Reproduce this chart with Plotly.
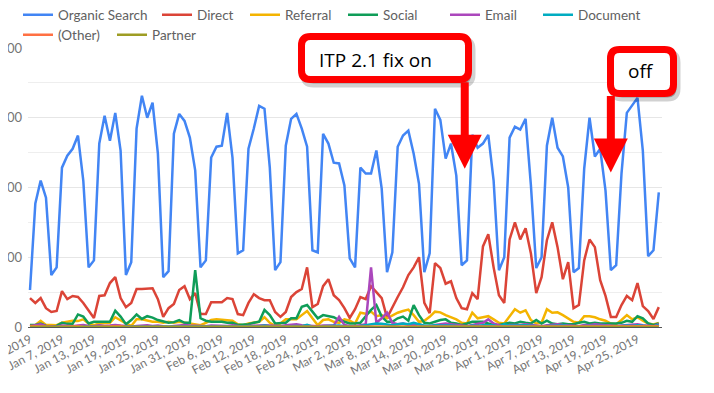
import plotly.graph_objects as go
import pandas as pd

# ---------------- data (daily, Jan 1 2019 - Apr 29 2019) ----------------
start_date = "2019-01-01"
end_date = "2019-04-29"

organic_search = [
    106, 354, 420, 371, 149, 171, 457,
    491, 511, 549, 420, 171, 191, 526,
    606, 534, 614, 506, 149, 186, 569,
    663, 600, 643, 497, 143, 160, 554,
    611, 591, 543, 449, 171, 191, 486,
    517, 520, 614, 486, 211, 220, 511,
    569, 634, 626, 457, 163, 186, 520,
    597, 611, 569, 517, 220, 214, 554,
    526, 471, 469, 406, 197, 171, 457,
    440, 440, 506, 397, 157, 214, 517,
    549, 563, 497, 411, 157, 211, 626,
    594, 483, 526, 434, 177, 191, 551,
    514, 526, 551, 420, 163, 200, 543,
    574, 566, 597, 406, 169, 200, 520,
    600, 514, 489, 400, 157, 169, 454,
    600, 489, 511, 391, 163, 177, 440,
    614, 634, 657, 506, 203, 220, 386,
]
direct = [
    83, 69, 83, 54, 43, 46, 103,
    80, 89, 86, 69, 49, 26, 89,
    91, 126, 143, 83, 57, 69, 109,
    109, 109, 111, 80, 29, 54, 66,
    106, 117, 80, 97, 37, 37, 71,
    71, 71, 83, 80, 37, 34, 69,
    94, 83, 77, 77, 43, 29, 43,
    86, 100, 109, 171, 57, 66, 117,
    137, 91, 77, 54, 26, 51, 86,
    80, 117, 100, 83, 26, 57, 86,
    114, 149, 171, 200, 69, 40, 183,
    169, 124, 131, 83, 54, 51, 97,
    80, 231, 266, 171, 91, 69, 251,
    300, 251, 283, 211, 97, 143, 249,
    300, 229, 137, 186, 54, 63, 191,
    251, 229, 134, 89, 29, 29, 63,
    89, 77, 126, 60, 46, 23, 57,
]
referral = [
    3, 6, 18, 6, 6, 5, 12,
    15, 18, 17, 22, 10, 5, 10,
    12, 12, 28, 18, 10, 3, 22,
    22, 18, 15, 15, 12, 15, 12,
    15, 13, 10, 8, 5, 12, 20,
    22, 20, 18, 18, 8, 5, 10,
    12, 15, 28, 12, 3, 10, 22,
    22, 22, 34, 46, 25, 5, 20,
    22, 15, 12, 22, 18, 10, 41,
    38, 44, 31, 34, 25, 34, 41,
    46, 50, 34, 15, 18, 29, 44,
    42, 34, 29, 22, 12, 10, 41,
    25, 28, 31, 22, 12, 10, 29,
    51, 41, 48, 20, 10, 12, 51,
    41, 42, 34, 25, 15, 12, 31,
    31, 28, 22, 18, 10, 8, 20,
    34, 22, 28, 18, 10, 7, 12,
]
social = [
    6, 6, 10, 3, 1, 3, 12,
    9, 9, 36, 30, 10, 15, 15,
    14, 15, 47, 30, 8, 20, 36,
    23, 31, 27, 20, 15, 12, 14,
    20, 12, 12, 163, 25, 18, 15,
    15, 15, 12, 12, 6, 6, 8,
    12, 15, 49, 34, 10, 10, 12,
    25, 25, 58, 63, 44, 25, 34,
    31, 28, 20, 15, 10, 10, 12,
    31, 49, 63, 30, 15, 15, 25,
    30, 18, 63, 34, 12, 10, 15,
    20, 22, 12, 10, 6, 10, 15,
    15, 15, 10, 6, 6, 8, 12,
    10, 15, 12, 10, 20, 10, 18,
    10, 8, 10, 8, 8, 12, 15,
    10, 12, 10, 10, 8, 10, 12,
    18, 15, 31, 25, 10, 6, 10,
]
email = [
    2, 5, 8, 3, 2, 1, 4,
    3, 2, 4, 6, 3, 2, 5,
    3, 4, 6, 4, 2, 1, 3,
    4, 5, 3, 4, 2, 1, 3,
    5, 6, 4, 3, 2, 2, 4,
    3, 4, 3, 5, 2, 1, 3,
    4, 3, 5, 4, 2, 2, 5,
    6, 8, 5, 4, 3, 2, 4,
    5, 4, 29, 6, 3, 2, 5,
    8, 171, 12, 25, 41, 12, 8,
    10, 6, 5, 8, 3, 2, 6,
    8, 10, 8, 6, 3, 2, 6,
    8, 12, 22, 10, 5, 3, 6,
    5, 6, 8, 6, 3, 2, 5,
    6, 8, 6, 5, 3, 2, 6,
    5, 8, 6, 5, 3, 2, 4,
    5, 6, 8, 5, 3, 2, 8,
]
document = [
    1, 2, 1, 0, 0, 0, 1,
    1, 2, 1, 1, 0, 0, 1,
    2, 1, 2, 1, 0, 0, 1,
    2, 1, 2, 1, 0, 0, 2,
    1, 2, 1, 2, 0, 0, 1,
    2, 1, 2, 1, 0, 0, 2,
    1, 2, 4, 2, 0, 1, 2,
    2, 3, 2, 6, 1, 0, 2,
    3, 2, 4, 2, 1, 0, 3,
    6, 8, 10, 9, 6, 5, 8,
    10, 8, 12, 8, 4, 3, 5,
    4, 5, 4, 3, 1, 1, 4,
    3, 5, 6, 5, 1, 8, 4,
    3, 4, 5, 4, 1, 1, 3,
    4, 3, 4, 3, 1, 1, 3,
    3, 4, 3, 3, 1, 1, 3,
    4, 3, 5, 3, 1, 1, 6,
]
other = [
    3, 2, 1, 2, 0, 0, 1,
    2, 1, 2, 1, 0, 0, 1,
    1, 2, 1, 3, 0, 0, 2,
    1, 2, 1, 1, 0, 0, 1,
    2, 1, 2, 1, 0, 0, 2,
    1, 2, 1, 2, 0, 0, 1,
    2, 1, 2, 1, 0, 0, 1,
    1, 2, 1, 2, 0, 0, 2,
    2, 1, 2, 1, 0, 0, 1,
    1, 2, 1, 2, 0, 0, 1,
    2, 1, 2, 1, 0, 0, 2,
    1, 2, 1, 1, 0, 0, 1,
    2, 1, 2, 1, 0, 0, 1,
    1, 2, 1, 2, 0, 0, 2,
    2, 1, 2, 1, 0, 0, 1,
    1, 2, 1, 2, 0, 0, 1,
    2, 1, 2, 1, 0, 0, 2,
]
partner = [
    0, 1, 0, 1, 0, 0, 0,
    1, 0, 1, 0, 0, 0, 1,
    0, 1, 0, 1, 0, 0, 0,
    1, 0, 1, 0, 0, 0, 1,
    0, 1, 0, 1, 0, 0, 0,
    1, 0, 1, 0, 0, 0, 1,
    0, 1, 0, 1, 0, 0, 0,
    1, 0, 1, 0, 0, 0, 1,
    0, 1, 0, 1, 0, 0, 0,
    1, 0, 1, 0, 0, 0, 1,
    0, 1, 0, 1, 0, 0, 0,
    1, 0, 1, 0, 0, 0, 1,
    0, 1, 0, 1, 0, 0, 0,
    1, 0, 1, 0, 0, 0, 1,
    0, 1, 0, 1, 0, 0, 0,
    1, 0, 1, 0, 0, 0, 1,
    0, 1, 0, 1, 0, 0, 0,
]

series_names = ["Organic Search", "Direct", "Referral", "Social", "Email",
                "Document", "(Other)", "Partner"]
series_values = [organic_search, direct, referral, social, email,
                 document, other, partner]
series_colors = ["#4285F4", "#DB4437", "#F4B400", "#0F9D58", "#AB47BC",
                 "#00ACC1", "#FF7043", "#9E9D24"]

y_tick_values = [0, 200, 400, 600, 800]

itp_on_date, itp_on_value = "2019-03-23 14:00", 454
itp_off_date, itp_off_value = "2019-04-20", 443

# ---------------- layout geometry (page pixels; page body has 8px margin) ----
OFF = 8
W, H = 714 - OFF, 393 - OFF
ML, MT = 28 - OFF, 48 - OFF
MR = W - (662 - OFF)
MB = H - (327 - OFF)
PW, PH = W - ML - MR, H - MT - MB

# legend entries: (text start x, row centre y) in page pixels
legend_pos = [(58, 15), (197, 15), (285, 15), (383, 15), (485, 15), (578, 15),
              (58, 35), (152, 35)]


def px(xp):
    return (xp - OFF - ML) / PW


def py(yp):
    return (H - MB - (yp - OFF)) / PH


def rounded_path(x0, y0, x1, y1, r):
    pts = [
        ("M", [(x0 + r, y0)]), ("L", [(x1 - r, y0)]), ("Q", [(x1, y0), (x1, y0 + r)]),
        ("L", [(x1, y1 - r)]), ("Q", [(x1, y1), (x1 - r, y1)]),
        ("L", [(x0 + r, y1)]), ("Q", [(x0, y1), (x0, y1 - r)]),
        ("L", [(x0, y0 + r)]), ("Q", [(x0, y0), (x0 + r, y0)]),
    ]
    s = ""
    for cmd, ps in pts:
        s += cmd + " " + " ".join(f"{px(a):.5f},{py(b):.5f}" for a, b in ps) + " "
    return s + "Z"


# ---------------- figure ----------------
dates = pd.date_range(start_date, end_date, freq="D")
tick_dates = dates[::6]

fig = go.Figure()
legend_layouts = {}
for i, (name, vals, col) in enumerate(zip(series_names, series_values, series_colors)):
    key = "legend" if i == 0 else f"legend{i + 1}"
    fig.add_trace(go.Scatter(x=dates, y=vals, name=name, mode="lines",
                             line=dict(color=col, width=2.5), legend=key))
    tx, ty = legend_pos[i]
    legend_layouts[key] = dict(
        orientation="h", xref="container", yref="container",
        x=(tx - 40 - OFF) / W, y=1 - (ty - OFF) / H,
        xanchor="left", yanchor="middle",
        font=dict(family="Lato", size=13.5, color="#616161"),
        bgcolor="rgba(0,0,0,0)", borderwidth=0, itemwidth=30)

shapes = []
for (x0, y0, x1, y1) in [(301.5, 36.5, 468.5, 79.5), (610.5, 49.5, 673.5, 93.5)]:
    shapes.append(dict(type="path", xref="paper", yref="paper",
                       path=rounded_path(x0 + 3, y0 + 4, x1 + 3, y1 + 4, 9),
                       fillcolor="rgba(0,0,0,0.28)",
                       line=dict(color="rgba(0,0,0,0.18)", width=8), layer="above"))
    shapes.append(dict(type="path", xref="paper", yref="paper",
                       path=rounded_path(x0, y0, x1, y1, 9),
                       fillcolor="white", line=dict(color="#FF0000", width=7),
                       layer="above"))

annotations = [
    dict(x=itp_on_date, y=itp_on_value, xref="x", yref="y", text="",
         showarrow=True, ax=0, ay=-88, arrowcolor="#FF0000", arrowwidth=8,
         arrowhead=2, arrowsize=0.85, standoff=0),
    dict(x=itp_off_date, y=itp_off_value, xref="x", yref="y", text="",
         showarrow=True, ax=0, ay=-78, arrowcolor="#FF0000", arrowwidth=8,
         arrowhead=2, arrowsize=0.85, standoff=0),
    dict(x=px(317), y=py(60), xref="paper", yref="paper", text="ITP 2.1 fix on",
         showarrow=False, xanchor="left", yanchor="middle",
         font=dict(family="Open Sans", size=19, color="black")),
    dict(x=px(640), y=py(71), xref="paper", yref="paper", text="off",
         showarrow=False, xanchor="center", yanchor="middle",
         font=dict(family="Open Sans", size=19, color="black")),
]

day = pd.Timedelta(days=1)
fig.update_layout(
    width=W, height=H, autosize=False,
    margin=dict(l=ML, r=MR, t=MT, b=MB, pad=0, autoexpand=False),
    paper_bgcolor="white", plot_bgcolor="white",
    font=dict(family="Lato", color="#757575"),
    showlegend=True,
    xaxis=dict(range=[dates[0] - 0.375 * day, dates[0] + 118.6 * day],
               tickvals=list(tick_dates), tickformat="%b %-d, %Y",
               tickangle=-28, showgrid=False, showline=True, linecolor="#555555",
               linewidth=1, ticks="", zeroline=False, automargin=False,
               ticklabeloverflow="allow",
               tickfont=dict(family="Lato", size=12, color="#757575")),
    yaxis=dict(range=[0, 800], tickvals=y_tick_values, tickformat=",d",
               showgrid=True, gridcolor="#e6e6e6", gridwidth=1,
               minor=dict(dtick=100, showgrid=True, gridcolor="#eeeeee", gridwidth=1),
               zeroline=False, showline=False, ticks="", automargin=False,
               ticklabelstandoff=5, ticklabeloverflow="allow",
               tickfont=dict(family="Lato", size=13, color="#757575")),
    shapes=shapes,
    annotations=annotations,
    **legend_layouts,
)

fig.write_html("out.html")
